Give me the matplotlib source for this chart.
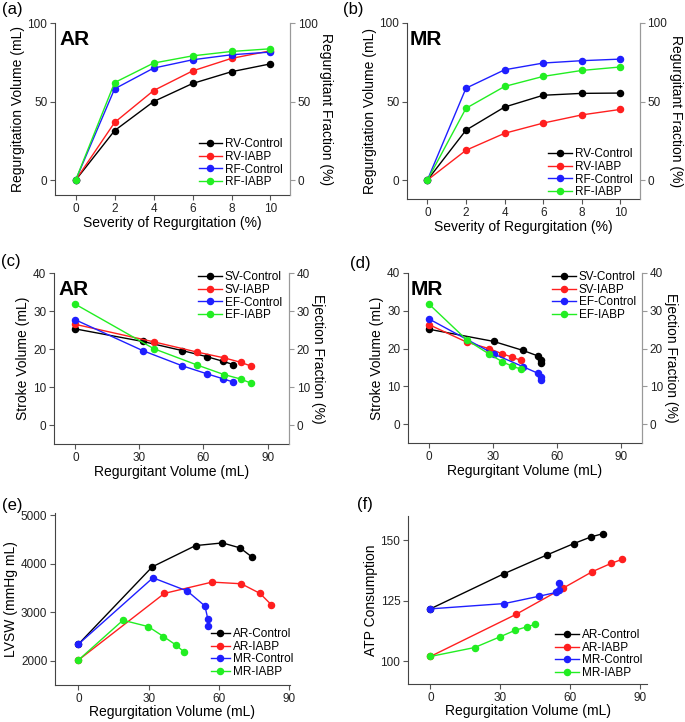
import matplotlib
matplotlib.use("Agg")
import matplotlib.pyplot as plt

plt.rcParams['font.family'] = ['Liberation Sans', 'DejaVu Sans']

# ---------------- data ----------------
severity = [0, 2, 4, 6, 8, 10]

# regurgitant volumes (mL)
ar_rv_control = [0, 31.5, 50.0, 61.5, 69.0, 74.0]
ar_rv_iabp = [0, 36.7, 57.0, 69.5, 77.5, 82.3]
mr_rv_control = [0, 31.8, 46.5, 54.0, 55.2, 55.4]
mr_rv_iabp = [0, 19.0, 29.8, 36.3, 41.5, 45.0]
# regurgitant volumes as plotted in panel (d)
mr_rv_control_d = [0, 30.2, 44.1, 51.3, 52.3, 52.3]
mr_rv_iabp_d = [0, 17.6, 28.0, 34.4, 39.1, 43.0]

# regurgitant fraction (%)
ar_rf_control = [0, 58.1, 71.3, 76.6, 79.8, 81.5]
ar_rf_iabp = [0, 62.1, 74.5, 79.1, 81.9, 83.6]
mr_rf_control = [0, 58.5, 70.2, 74.5, 76.0, 77.0]
mr_rf_iabp = [0, 45.7, 59.6, 66.0, 69.8, 72.0]

# stroke volume (mL) and ejection fraction (%)
ar_sv_control = [25.3, 22.0, 19.6, 18.0, 16.8, 15.9]
ar_sv_iabp = [26.5, 21.9, 19.2, 17.7, 16.5, 15.5]
ar_ef_control = [27.7, 19.6, 15.6, 13.5, 12.2, 11.3]
ar_ef_iabp = [31.8, 20.1, 15.8, 13.3, 12.1, 11.0]
mr_sv_control = [25.1, 21.9, 19.5, 18.0, 16.9, 16.2]
mr_sv_iabp = [26.3, 21.7, 20.0, 18.6, 17.7, 16.9]
mr_ef_control = [27.8, 18.6, 15.2, 13.4, 12.5, 11.8]
mr_ef_iabp = [31.7, 22.3, 18.6, 16.5, 15.3, 14.6]

# LVSW (mmHg mL)
ar_lvsw_control = [2342, 3938, 4377, 4432, 4329, 4144]
ar_lvsw_iabp = [2014, 3390, 3623, 3589, 3390, 3158]
mr_lvsw_control = [2342, 3712, 3438, 3130, 2870, 2719]
mr_lvsw_iabp = [2014, 2836, 2705, 2500, 2329, 2185]

# ATP consumption
ar_atp_control = [121.6, 136.1, 143.9, 148.6, 151.4, 152.7]
ar_atp_iabp = [101.9, 119.3, 130.2, 137.0, 140.4, 142.1]
mr_atp_control = [121.6, 123.8, 126.8, 128.4, 129.5, 132.2]
mr_atp_iabp = [101.9, 105.6, 110.0, 112.7, 114.2, 115.2]

labels_ab = ['RV-Control', 'RV-IABP', 'RF-Control', 'RF-IABP']
labels_cd = ['SV-Control', 'SV-IABP', 'EF-Control', 'EF-IABP']
labels_ef = ['AR-Control', 'AR-IABP', 'MR-Control', 'MR-IABP']

COLORS = ['#000000', '#ff1f1f', '#1f1fff', '#22ee22']

fig = plt.figure(figsize=(6.85, 7.22), dpi=100)

LW = 1.0
MS = 4.4
FS_LAB = 10
FS_TICK = 8.5
FS_LEG = 8.5
SPINE = '#444444'
TICKC = '#555555'
XPAD = 1.0


def style_axes(ax, right=False):
    ax.spines['top'].set_visible(False)
    ax.spines['left'].set_color(SPINE)
    ax.spines['bottom'].set_color(SPINE)
    if right:
        ax.spines['right'].set_color('#999999')
    else:
        ax.spines['right'].set_visible(False)
    ax.tick_params(direction='out', length=3.5, width=0.8, colors=TICKC, pad=2,
                   labelsize=FS_TICK, labelcolor='#222222')


def plot_series(ax, xs, ys, labels):
    handles = []
    for x, y, lab, c in zip(xs, ys, labels, COLORS):
        h, = ax.plot(x, y, '-o', color=c, lw=LW, ms=MS, label=lab, clip_on=False)
        handles.append(h)
    return handles


def legend(ax, handles, loc, anchor, hl=2.0):
    ax.legend(handles=handles, loc=loc, bbox_to_anchor=anchor, frameon=False,
              fontsize=FS_LEG, labelspacing=0.05, handlelength=hl,
              handletextpad=0.25, borderaxespad=0.0, borderpad=0.0)


def twin_right(ax, label, ylim, yticks):
    ax2 = ax.twinx()
    ax2.set_ylim(*ylim)
    ax2.set_yticks(yticks)
    for s in ['top', 'left', 'bottom']:
        ax2.spines[s].set_visible(False)
    ax2.spines['right'].set_color('#999999')
    ax2.tick_params(direction='out', length=3.5, width=0.8, colors='#999999', pad=2,
                    labelsize=FS_TICK, labelcolor='#222222')
    ax2.set_ylabel(label, rotation=270, labelpad=11, fontsize=FS_LAB)
    return ax2


# ---------- (a) ----------
axa = fig.add_axes([0.0803, 0.7299, 0.343, 0.2382])
style_axes(axa, right=True)
ha = plot_series(axa, [severity] * 4,
                 [ar_rv_control, ar_rv_iabp, ar_rf_control, ar_rf_iabp], labels_ab)
axa.set_xlim(-1.06, 11)
axa.set_ylim(-9.5, 100)
axa.set_xticks([0, 2, 4, 6, 8, 10])
axa.set_yticks([0, 50, 100])
axa.set_xlabel('Severity of Regurgitation (%)', fontsize=FS_LAB, labelpad=XPAD)
axa.set_ylabel('Regurgitation Volume (mL)', fontsize=FS_LAB, labelpad=2)
twin_right(axa, 'Regurgitant Fraction (%)', (-9.5, 100), [0, 50, 100])
axa.text(0.02, 0.96, 'AR', transform=axa.transAxes, fontsize=15, fontweight='bold',
         va='top', ha='left')
legend(axa, ha, 'lower right', (0.97, 0.04))

# ---------- (b) ----------
axb = fig.add_axes([0.594, 0.7244, 0.340, 0.2438])
style_axes(axb, right=True)
hb = plot_series(axb, [severity] * 4,
                 [mr_rv_control, mr_rv_iabp, mr_rf_control, mr_rf_iabp], labels_ab)
axb.set_xlim(-1.06, 11)
axb.set_ylim(-12, 100)
axb.set_xticks([0, 2, 4, 6, 8, 10])
axb.set_yticks([0, 50, 100])
axb.set_xlabel('Severity of Regurgitation (%)', fontsize=FS_LAB, labelpad=XPAD)
axb.set_ylabel('Regurgitation Volume (mL)', fontsize=FS_LAB, labelpad=2)
twin_right(axb, 'Regurgitant Fraction (%)', (-12, 100), [0, 50, 100])
axb.text(0.013, 0.96, 'MR', transform=axb.transAxes, fontsize=15, fontweight='bold',
         va='top', ha='left')
legend(axb, hb, 'lower right', (0.97, 0.005))

# ---------- (c) ----------
axc = fig.add_axes([0.0788, 0.385, 0.343, 0.2368])
style_axes(axc, right=True)
hc = plot_series(axc, [ar_rv_control, ar_rv_iabp, ar_rv_control, ar_rv_iabp],
                 [ar_sv_control, ar_sv_iabp, ar_ef_control, ar_ef_iabp], labels_cd)
axc.set_xlim(-10, 100)
axc.set_ylim(-5, 40)
axc.set_xticks([0, 30, 60, 90])
axc.set_yticks([0, 10, 20, 30, 40])
axc.set_xlabel('Regurgitant Volume (mL)', fontsize=FS_LAB, labelpad=XPAD)
axc.set_ylabel('Stroke Volume (mL)', fontsize=FS_LAB, labelpad=2)
twin_right(axc, 'Ejection Fraction (%)', (-5, 40), [0, 10, 20, 30, 40])
axc.text(0.02, 0.96, 'AR', transform=axc.transAxes, fontsize=15, fontweight='bold',
         va='top', ha='left')
legend(axc, hc, 'upper right', (0.97, 1.01))

# ---------- (d) ----------
axd = fig.add_axes([0.5956, 0.3864, 0.3416, 0.2355])
style_axes(axd, right=True)
hd = plot_series(axd, [mr_rv_control_d, mr_rv_iabp_d, mr_rv_control_d, mr_rv_iabp_d],
                 [mr_sv_control, mr_sv_iabp, mr_ef_control, mr_ef_iabp], labels_cd)
axd.set_xlim(-10, 100)
axd.set_ylim(-5, 40)
axd.set_xticks([0, 30, 60, 90])
axd.set_yticks([0, 10, 20, 30, 40])
axd.set_xlabel('Regurgitant Volume (mL)', fontsize=FS_LAB, labelpad=XPAD)
axd.set_ylabel('Stroke Volume (mL)', fontsize=FS_LAB, labelpad=2)
twin_right(axd, 'Ejection Fraction (%)', (-5, 40), [0, 10, 20, 30, 40])
axd.text(0.01, 0.96, 'MR', transform=axd.transAxes, fontsize=15, fontweight='bold',
         va='top', ha='left')
legend(axd, hd, 'upper right', (0.974, 1.01))

# ---------- (e) ----------
axe = fig.add_axes([0.0803, 0.0513, 0.343, 0.2382])
style_axes(axe)
he = plot_series(axe, [ar_rv_control, ar_rv_iabp, mr_rv_control, mr_rv_iabp],
                 [ar_lvsw_control, ar_lvsw_iabp, mr_lvsw_control, mr_lvsw_iabp], labels_ef)
axe.set_xlim(-10, 90.3)
axe.set_ylim(1500, 5050)
axe.set_xticks([0, 30, 60, 90])
axe.set_yticks([2000, 3000, 4000, 5000])
axe.set_xlabel('Regurgitation Volume (mL)', fontsize=FS_LAB, labelpad=0)
axe.set_ylabel('LVSW (mmHg mL)', fontsize=FS_LAB, labelpad=2)
legend(axe, he, 'lower right', (1.013, 0.04), hl=1.6)

# ---------- (f) ----------
axf = fig.add_axes([0.5956, 0.0526, 0.349, 0.2326])
style_axes(axf)
hf = plot_series(axf, [ar_rv_control, ar_rv_iabp, mr_rv_control, mr_rv_iabp],
                 [ar_atp_control, ar_atp_iabp, mr_atp_control, mr_atp_iabp], labels_ef)
axf.set_xlim(-9.6, 93)
axf.set_ylim(90.5, 160)
axf.set_xticks([0, 30, 60, 90])
axf.set_yticks([100, 125, 150])
axf.set_xlabel('Regurgitation Volume (mL)', fontsize=FS_LAB, labelpad=0)
axf.set_ylabel('ATP Consumption', fontsize=FS_LAB, labelpad=2)
legend(axf, hf, 'lower right', (0.979, 0.03), hl=2.0)

# panel letters
for txt, x, y in [('(a)', 2, 14), ('(b)', 343, 14), ('(c)', 1, 266),
                  ('(d)', 350, 268), ('(e)', 2, 510), ('(f)', 357, 509)]:
    fig.text(x / 685, 1 - y / 722, txt, fontsize=12, ha='left', va='baseline')

fig.savefig('out.png', dpi=100)
